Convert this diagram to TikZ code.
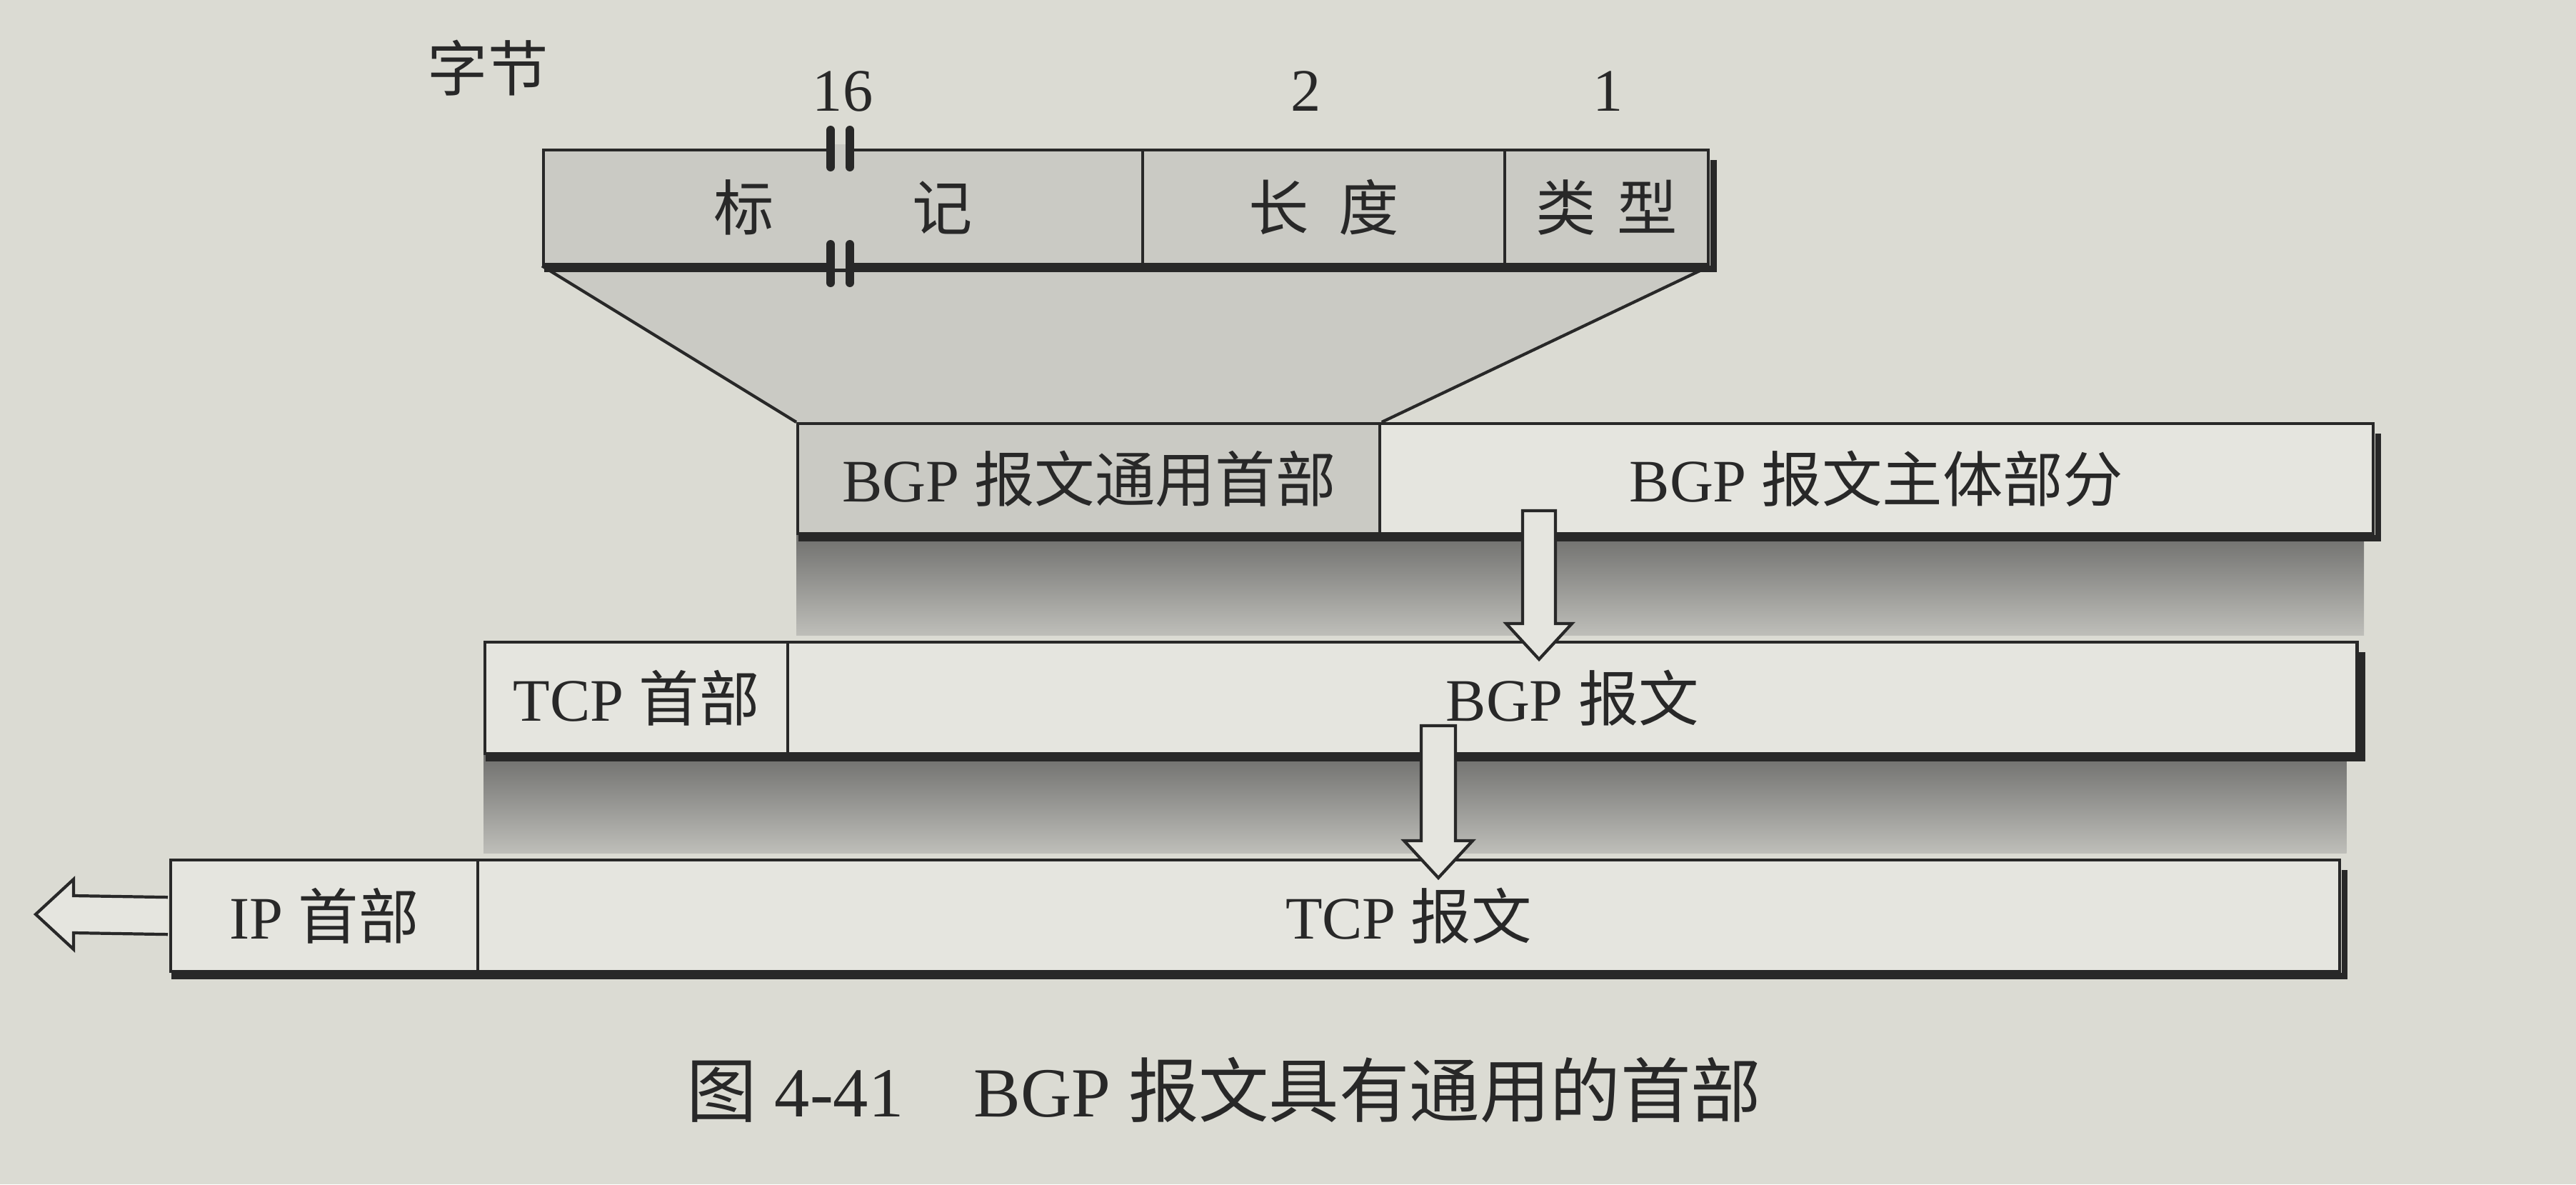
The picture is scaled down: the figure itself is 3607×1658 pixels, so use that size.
\documentclass[tikz,border=0pt]{standalone}
\usepackage{fontspec}
\setmainfont{Liberation Serif}
\newfontfamily\cjk{Noto Sans CJK SC}
\usetikzlibrary{calc}
\pgfdeclarelayer{background}
\pgfsetlayers{background,main}
\definecolor{paper}{RGB}{219,219,211}
\definecolor{boxwhite}{RGB}{229,229,223}
\definecolor{boxgrey}{RGB}{202,202,196}
\definecolor{ink}{RGB}{40,40,40}
\definecolor{shadowtop}{RGB}{112,112,110}
\definecolor{shadowbot}{RGB}{190,190,185}
\newcommand{\zhtxt}[1]{{\cjk #1}}
\newcommand{\lblfont}{\fontsize{24pt}{28pt}\selectfont}
\newcommand{\capfont}{\fontsize{28pt}{32pt}\selectfont}
\begin{document}
\begin{tikzpicture}[x=0.01cm, y=-0.01cm,
  cell/.style={draw=ink, line width=1.2pt, inner sep=0pt, anchor=north west, text=ink, font=\lblfont},
  greycell/.style={cell, fill=boxgrey},
  whitecell/.style={cell, fill=boxwhite},
  shadowedge/.style={draw=ink, line width=2.4pt, line join=miter},
  slantedge/.style={draw=ink, line width=1.2pt},
  blockarrow/.style={draw=ink, fill=boxwhite, line width=1.2pt, line join=miter},
  breakbar/.style={draw=ink, line width=3.4pt, line cap=round},
  toplabel/.style={text=ink, font=\lblfont, inner sep=0pt}]
\useasboundingbox (0,0) rectangle (3607,1658);

% header (16 + 2 + 1 bytes)
\node[greycell, minimum width=8.39cm, minimum height=1.6cm] (hdrmark) at (759,208) {\zhtxt{标}\hspace{1.93cm}\zhtxt{记}};
\node[greycell, minimum width=5.07cm, minimum height=1.6cm] (hdrlen) at (1598,208) {\zhtxt{长\hspace{0.5em}度}};
\node[greycell, minimum width=2.85cm, minimum height=1.6cm] (hdrtype) at (2105,208) {\zhtxt{类\hspace{0.35em}型}};

% BGP message
\node[greycell, minimum width=8.15cm, minimum height=1.54cm] (bgphdr) at (1115,591) {BGP \zhtxt{报文通用首部}};
\node[whitecell, minimum width=13.90cm, minimum height=1.54cm] (bgpbody) at (1930,591) {BGP \zhtxt{报文主体部分}};

% TCP segment
\node[whitecell, minimum width=4.24cm, minimum height=1.56cm] (tcphdr) at (677,897) {TCP \zhtxt{首部}};
\node[whitecell, minimum width=21.96cm, minimum height=1.56cm] (tcpbody) at (1101,897) {BGP \zhtxt{报文}};

% IP datagram
\node[whitecell, minimum width=4.30cm, minimum height=1.56cm] (iphdr) at (237,1202) {IP \zhtxt{首部}};
\node[whitecell, minimum width=26.05cm, minimum height=1.56cm] (ipbody) at (667,1202) {TCP \zhtxt{报文}};

% labels above the header
\node[toplabel] (unit) at (683,95) {\zhtxt{字节}};
\node[toplabel] (n16) at (1180,128) {16};
\node[toplabel] (n2) at (1829,128) {2};
\node[toplabel] (n1) at (2252,128) {1};

% caption
\node[text=ink, font=\capfont, inner sep=0pt] (cap) at (1714,1526) {\zhtxt{图} 4-41\hspace{1em}BGP \zhtxt{报文具有通用的首部}};

% helper coordinates for the shaded bands
\coordinate (s1a) at ($(bgpbody.south east)+(-15,0)$);
\coordinate (s1b) at ($(tcpbody.north)+(0,-8)$);
\coordinate (s2a) at ($(tcpbody.south east)+(-17,0)$);
\coordinate (s2b) at ($(ipbody.north)+(0,-8)$);

\begin{pgfonlayer}{background}
  \fill[paper] (0,0) rectangle (3607,1658);
  \fill[boxgrey] (hdrmark.south west) -- (hdrtype.south east) -- (bgphdr.north east) -- (bgphdr.north west) -- cycle;
  \shade[top color=shadowtop, bottom color=shadowbot] (bgphdr.south west) rectangle (s1a |- s1b);
  \shade[top color=shadowtop, bottom color=shadowbot] (tcphdr.south west) rectangle (s2a |- s2b);
\end{pgfonlayer}

% slanted sides of the expansion
\draw[slantedge] (hdrmark.south west) -- (bgphdr.north west);
\draw[slantedge] (hdrtype.south east) -- (bgphdr.north east);

% thick shadow edges (bottom and right)
\draw[shadowedge] ($(hdrmark.south west)+(3,4)$) -- ($(hdrtype.south east)+(5,4)$) -- ($(hdrtype.north east)+(5,16)$);
\draw[shadowedge] ($(bgphdr.south west)+(3,4)$) -- ($(bgpbody.south east)+(5,4)$) -- ($(bgpbody.north east)+(5,16)$);
\draw[shadowedge] ($(tcphdr.south west)+(3,4)$) -- ($(tcpbody.south east)+(5,4)$) -- ($(tcpbody.north east)+(5,16)$);
\draw[shadowedge] ($(iphdr.south west)+(3,4)$) -- ($(ipbody.south east)+(5,4)$) -- ($(ipbody.north east)+(5,16)$);

% break marks in the 16-byte field
\fill[boxgrey] (1166,202) rectangle (1187,214);
\fill[boxgrey] (1166,362) rectangle (1187,376);
\draw[breakbar] (1163,182) -- (1163,234);
\draw[breakbar] (1190,182) -- (1190,234);
\draw[breakbar] (1163,342) -- (1163,396);
\draw[breakbar] (1190,342) -- (1190,396);

% hollow block arrows
\coordinate (a1s) at (2155,715);
\coordinate (a1t) at (2155,923);
\path[blockarrow] ($(a1s)+(-23,0)$) -- ($(a1t)+(-23,-50)$) -- ($(a1t)+(-46,-50)$) -- (a1t)
  -- ($(a1t)+(46,-50)$) -- ($(a1t)+(23,-50)$) -- ($(a1s)+(23,0)$) -- cycle;

\coordinate (a2s) at (2014,1016);
\coordinate (a2t) at (2014,1229);
\path[blockarrow] ($(a2s)+(-24,0)$) -- ($(a2t)+(-24,-52)$) -- ($(a2t)+(-48,-52)$) -- (a2t)
  -- ($(a2t)+(48,-52)$) -- ($(a2t)+(24,-52)$) -- ($(a2s)+(24,0)$) -- cycle;

\coordinate (a3t) at (50,1280);
\path[blockarrow] ($(iphdr.west)+(-2,-26)$) -- ($(a3t)+(53,-26)$) -- ($(a3t)+(53,-49)$) -- (a3t)
  -- ($(a3t)+(53,49)$) -- ($(a3t)+(53,26)$) -- ($(iphdr.west)+(-2,26)$);
\end{tikzpicture}
\end{document}
